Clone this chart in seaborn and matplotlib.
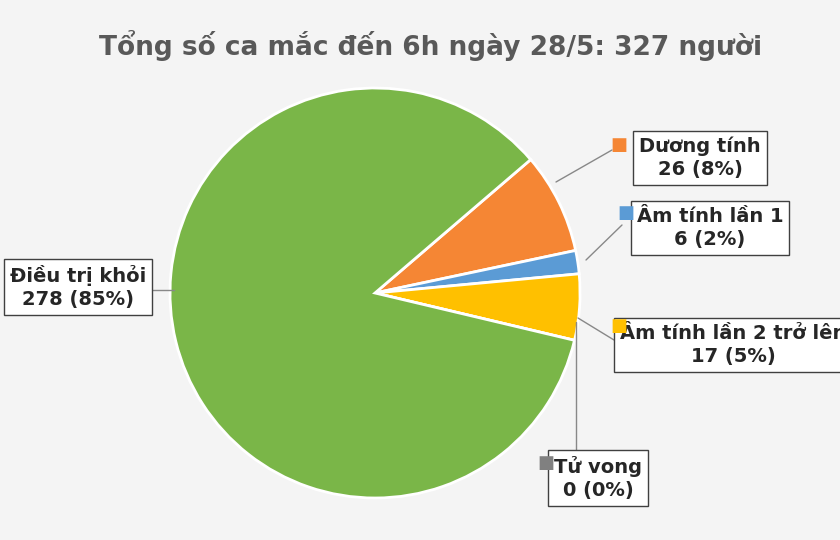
import matplotlib
matplotlib.use("Agg")
import matplotlib.pyplot as plt
import seaborn as sns

sns.set_theme(style="white")
plt.rcParams["font.family"] = ["DejaVu Sans"]

labels = ["Dương tính", "Âm tính lần 1", "Âm tính lần 2 trở lên", "Tử vong", "Điều trị khỏi"]
values = [26, 6, 17, 0, 278]
percents = ["8%", "2%", "5%", "0%", "85%"]
colors = ["#f58634", "#5b9bd5", "#ffc000", "#808080", "#7ab648"]
explode = [0.1, 0.1, 0.06, 0, 0]

fig = plt.figure(figsize=(8.4, 5.4), dpi=100)
fig.patch.set_facecolor("#f4f4f4")
ax = fig.add_axes([0, 0, 1, 1])

ax.pie(values, colors=colors, startangle=40.6, counterclock=False,
       center=(375, 247), radius=205, explode=explode,
       wedgeprops=dict(edgecolor="white", linewidth=2), frame=True)
ax.set_xlim(0, 840)
ax.set_ylim(0, 540)
ax.axis("off")

fig.text(0.512, 0.915, "Tổng số ca mắc đến 6h ngày 28/5: 327 người",
         ha="center", va="center", fontsize=19, fontweight="bold", color="#595959")

# label box centre (pixel), square pos, leader line (box end, pie end)
layout = [
    ((700, 158), (619, 145), [(612, 150), (556, 182)]),
    ((710, 228), (626, 213), [(622, 225), (586, 260)]),
    ((733, 345), (619, 326), [(614, 340), (578, 318)]),
    ((598, 478), (546, 463), [(576, 450), (576, 322)]),
    ((78, 287), None, [(152, 290), (174, 290)]),
]
bbox = dict(boxstyle="square,pad=0.3", facecolor="white", edgecolor="#404040", linewidth=1)
for i, ((cx, cy), sq, line) in enumerate(layout):
    (x1, y1), (x2, y2) = line
    ax.plot([x1, x2], [540 - y1, 540 - y2], color="#888888", linewidth=1)
    ax.text(cx, 540 - cy, f"{labels[i]}\n{values[i]} ({percents[i]})", ha="center",
            va="center", fontsize=14, color="#262626", bbox=bbox,
            linespacing=1.3, fontweight="semibold")
    if sq is not None:
        ax.text(sq[0], 540 - sq[1], "■", ha="center", va="center", fontsize=13,
                color=colors[i])

fig.savefig("out.png", dpi=100, facecolor=fig.get_facecolor())
